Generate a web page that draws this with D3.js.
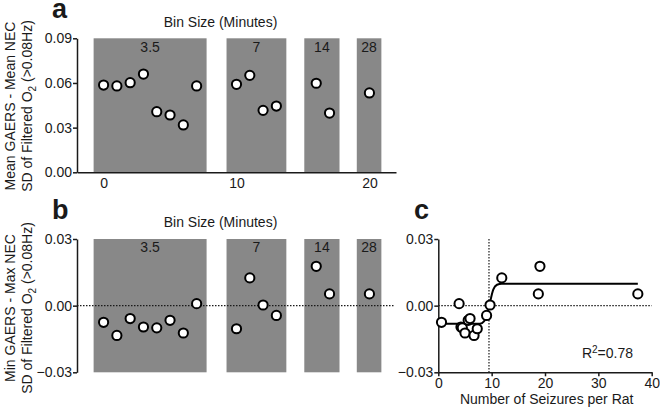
<!DOCTYPE html>
<meta charset="utf-8">
<script src="https://d3js.org/d3.v7.min.js"></script>
<style>
  body { margin: 0; background: #fff; }
  text { font-family: "Liberation Sans", Arial, sans-serif; fill: #1a1a1a; }
</style>
<div id="my_dataviz"></div>

<script>
  // bins (minutes) and their x extents on the shared index axis
  var binLabels = ["3.5", "7", "14", "28"];
  var binStart = [-0.75, 9.25, 15.1, 19.05];
  var binEnd = [7.75, 13.75, 17.75, 20.9];

  // x index of every point and the bin it belongs to
  var pointX = [0, 1, 2, 3, 4, 5, 6, 7, 10, 11, 12, 13, 16, 17, 20];

  // panel a: mean GAERS - mean NEC
  var meanDiff = [0.0586, 0.0580, 0.0602, 0.0660, 0.0407, 0.0385, 0.0318, 0.0580,
                  0.0591, 0.0651, 0.0416, 0.0445, 0.0598, 0.0398, 0.0533];

  // panel b: min GAERS - max NEC
  var minMaxDiff = [-0.0075, -0.0134, -0.0058, -0.0096, -0.0100, -0.0066, -0.0123, 0.0009,
                    -0.0104, 0.0125, 0.0003, -0.0044, 0.0177, 0.0053, 0.0053];

  // panel c: seizures per rat vs difference
  var seizures = [0.6, 3.9, 4.25, 4.5, 5.0, 5.6, 5.95, 6.7, 7.3, 9.05, 9.7, 11.9, 18.75, 19.05, 37.4];
  var seizureDiff = [-0.0075, 0.0009, -0.0096, -0.0100, -0.0123, -0.0066, -0.0058, -0.0134, -0.0104,
                     -0.0044, 0.0003, 0.0125, 0.0053, 0.0177, 0.0053];

  // fitted sigmoid
  var fitX = [0.6, 7.8, 8.6, 9.1, 9.6, 10.3, 11.0, 11.9, 37.4];
  var fitY = [-0.0082, -0.0082, -0.0070, -0.0045, 0.0005, 0.0072, 0.0094, 0.0099, 0.0099];

  var ticksA = [0, 0.03, 0.06, 0.09];
  var ticksB = [-0.03, 0, 0.03];
  var ticksIdx = [0, 10, 20];
  var ticksC = [0, 10, 20, 30, 40];

  var W = 660, H = 417;
  var gray = "#888888", ink = "#1a1a1a";

  var svg = d3.select("#my_dataviz")
    .append("svg")
    .attr("width", W)
    .attr("height", H);

  var x = d3.scaleLinear().domain([-2, 22]).range([77, 396]);
  var yA = d3.scaleLinear().domain([0, 0.09]).range([172.3, 38.3]);
  var yB = d3.scaleLinear().domain([-0.03, 0.03]).range([372.3, 239]);
  var xC = d3.scaleLinear().domain([0, 40]).range([438.3, 651.7]);

  var fmt = d3.format(".2f");

  function styleAxis(g) {
    g.select(".domain").attr("stroke", ink).attr("stroke-width", 1.5);
    g.selectAll(".tick line").attr("stroke", ink).attr("stroke-width", 1.5);
    g.selectAll(".tick text").style("font-size", "14px").attr("fill", ink)
      .style("font-family", "'Liberation Sans', Arial, sans-serif");
  }

  function drawBins(y, lo, hi, labelY) {
    var g = svg.append("g");
    g.selectAll("rect")
      .data(binLabels)
      .enter()
      .append("rect")
      .attr("x", function (d, i) { return x(binStart[i]); })
      .attr("width", function (d, i) { return x(binEnd[i]) - x(binStart[i]); })
      .attr("y", y(hi))
      .attr("height", y(lo) - y(hi))
      .attr("fill", gray);
    g.selectAll("text")
      .data(binLabels)
      .enter()
      .append("text")
      .attr("x", function (d, i) { return (x(binStart[i]) + x(binEnd[i])) / 2; })
      .attr("y", labelY)
      .attr("text-anchor", "middle")
      .style("font-size", "14px")
      .text(function (d) { return d; });
  }

  function dots(xs, ys, xs_, ys_) {
    svg.append("g")
      .selectAll("circle")
      .data(ys)
      .enter()
      .append("circle")
      .attr("cx", function (d, i) { return xs_(xs[i]); })
      .attr("cy", function (d) { return ys_(d); })
      .attr("r", 4.6)
      .attr("fill", "#fff")
      .attr("stroke", "#000")
      .attr("stroke-width", 2);
  }

  function yTitle(lines, cx, cy) {
    lines.forEach(function (ln, k) {
      var t = svg.append("text")
        .attr("transform", "translate(" + (cx[k]) + "," + cy + ") rotate(-90)")
        .attr("text-anchor", "middle")
        .style("font-size", "14px");
      ln.forEach(function (part) {
        var s = t.append("tspan").text(part.t);
        if (part.sub) s.attr("dy", 4).style("font-size", "10px");
        if (part.after) s.attr("dy", -4);
      });
    });
  }

  function panelLetter(ch, px, py) {
    svg.append("text")
      .attr("x", px).attr("y", py)
      .style("font-size", "27px")
      .style("font-weight", "bold")
      .attr("fill", "#000")
      .text(ch);
  }

  // ---------- panel a ----------
  drawBins(yA, 0, 0.09, 52);
  svg.append("g")
    .attr("transform", "translate(77,0)")
    .call(d3.axisLeft(yA).tickValues(ticksA).tickFormat(fmt).tickSize(4).tickPadding(1).tickSizeOuter(0))
    .call(styleAxis);
  svg.append("g")
    .attr("transform", "translate(0,172.3)")
    .call(d3.axisBottom(x).tickValues(ticksIdx).tickSize(0).tickPadding(6).tickSizeOuter(0))
    .call(styleAxis);
  dots(pointX, meanDiff, x, yA);
  svg.append("text").attr("x", 220.5).attr("y", 27).attr("text-anchor", "middle")
    .style("font-size", "14px").text("Bin Size (Minutes)");
  yTitle([
    [{ t: "Mean GAERS - Mean NEC" }],
    [{ t: "SD of Filtered O" }, { t: "2", sub: true }, { t: " (>0.08Hz)", after: true }]
  ], [15, 31.5], 106);
  panelLetter("a", 52, 18);

  // ---------- panel b ----------
  drawBins(yB, -0.03, 0.03, 252);
  svg.append("line")
    .attr("x1", 77).attr("x2", 394.5)
    .attr("y1", yB(0)).attr("y2", yB(0))
    .attr("stroke", ink).attr("stroke-width", 1.2).attr("stroke-dasharray", "1.5,1.5");
  svg.append("g")
    .attr("transform", "translate(77,0)")
    .call(d3.axisLeft(yB).tickValues(ticksB).tickFormat(fmt).tickSize(4).tickPadding(1).tickSizeOuter(0))
    .call(styleAxis);
  dots(pointX, minMaxDiff, x, yB);
  svg.append("text").attr("x", 220.5).attr("y", 227).attr("text-anchor", "middle")
    .style("font-size", "14px").text("Bin Size (Minutes)");
  yTitle([
    [{ t: "Min GAERS - Max NEC" }],
    [{ t: "SD of Filtered O" }, { t: "2", sub: true }, { t: " (>0.08Hz)", after: true }]
  ], [15, 31.5], 308);
  panelLetter("b", 52, 219);

  // ---------- panel c ----------
  svg.append("line")
    .attr("x1", xC(0)).attr("x2", xC(40))
    .attr("y1", yB(0)).attr("y2", yB(0))
    .attr("stroke", ink).attr("stroke-width", 1.2).attr("stroke-dasharray", "1.5,1.5");
  svg.append("line")
    .attr("x1", xC(9.5)).attr("x2", xC(9.5))
    .attr("y1", yB(0.03)).attr("y2", yB(-0.03))
    .attr("stroke", ink).attr("stroke-width", 1.2).attr("stroke-dasharray", "1.5,1.5");
  svg.append("g")
    .attr("transform", "translate(" + xC(0) + ",0)")
    .call(d3.axisLeft(yB).tickValues(ticksB).tickFormat(fmt).tickSize(4).tickPadding(1).tickSizeOuter(0))
    .call(styleAxis);
  svg.append("g")
    .attr("transform", "translate(0," + yB(-0.03) + ")")
    .call(d3.axisBottom(xC).tickValues(ticksC).tickSize(4).tickPadding(2).tickSizeOuter(0))
    .call(styleAxis);

  var fit = fitX.map(function (v, i) { return [v, fitY[i]]; });
  svg.append("path")
    .datum(fit)
    .attr("fill", "none")
    .attr("stroke", "#000")
    .attr("stroke-width", 2)
    .attr("d", d3.line()
      .x(function (d) { return xC(d[0]); })
      .y(function (d) { return yB(d[1]); })
      .curve(d3.curveMonotoneX));
  dots(seizures, seizureDiff, xC, yB);

  var r2 = svg.append("text").attr("x", 633).attr("y", 358).attr("text-anchor", "end")
    .style("font-size", "14px");
  r2.append("tspan").text("R");
  r2.append("tspan").attr("dy", -5).style("font-size", "10px").text("2");
  r2.append("tspan").attr("dy", 5).text("=0.78");

  svg.append("text").attr("x", 546.7).attr("y", 404).attr("text-anchor", "middle")
    .style("font-size", "14px").text("Number of Seizures per Rat");
  panelLetter("c", 414, 219);
</script>
